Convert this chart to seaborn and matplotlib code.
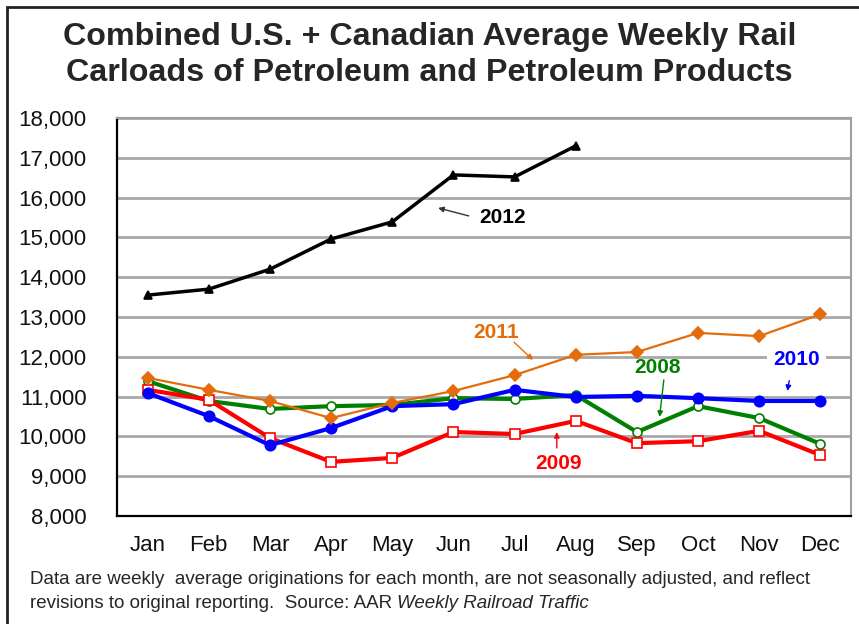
import pandas as pd
import matplotlib
matplotlib.use("Agg")
import matplotlib.pyplot as plt
import seaborn as sns
from matplotlib.patches import Rectangle
from matplotlib.ticker import FuncFormatter

# data (weekly average carloads)
months = ["Jan", "Feb", "Mar", "Apr", "May", "Jun", "Jul", "Aug", "Sep", "Oct", "Nov", "Dec"]
y2008 = [11390, 10890, 10690, 10760, 10790, 10960, 10940, 11040, 10110, 10760, 10460, 9810]
y2009 = [11170, 10920, 9960, 9360, 9460, 10110, 10060, 10390, 9830, 9880, 10140, 9530]
y2010 = [11090, 10510, 9780, 10210, 10760, 10810, 11170, 10990, 11020, 10960, 10890, 10890]
y2011 = [11470, 11170, 10890, 10460, 10840, 11140, 11540, 12050, 12120, 12600, 12520, 13070]
y2012 = [13550, 13700, 14200, 14960, 15390, 16570, 16520, 17300]
yticks = list(range(8000, 18001, 1000))

sns.set_style("white")
plt.rcParams["font.family"] = ["Liberation Sans", "DejaVu Sans"]

fig = plt.figure(figsize=(8.59, 6.24), dpi=100)
ax = fig.add_axes([117/859, 1 - 516/624, (851 - 117)/859, (516 - 118)/624])

# series styles: (values, color, marker, face, line width, marker size)
series = [
    (y2008, "#008000", "o", "white", 3.0, 6.5),
    (y2009, "#FF0000", "s", "white", 3.0, 6.5),
    (y2010, "#0000FF", "o", "#0000FF", 3.0, 7.5),
    (y2011, "#E46C0A", "D", "#E46C0A", 1.6, 6),
    (y2012, "black", "^", "black", 2.5, 6),
]
for vals, col, mk, face, lw, ms in series:
    x = list(range(len(vals)))
    sns.lineplot(x=x, y=vals, ax=ax, color=col, lw=lw, marker=mk, markersize=ms,
                 markerfacecolor=face, markeredgecolor=col, markeredgewidth=1.2)

ax.set_xlim(-0.5, 11.5)
ax.set_ylim(8000, 18000)
ax.set_yticks(yticks)
ax.yaxis.set_major_formatter(FuncFormatter(lambda v, p: f"{int(v):,}"))
ax.set_xticks(range(12))
ax.set_xticklabels(months)
ax.set_xticks([i + 0.5 for i in range(11)], minor=True)
ax.tick_params(axis="x", which="major", length=0, pad=14, labelsize=16, labelcolor="#111111")
ax.tick_params(axis="x", which="minor", direction="in", length=6, width=1.2, color="#333333")
ax.tick_params(axis="y", length=0, pad=22, labelsize=16, labelcolor="#111111")
ax.grid(axis="y", color="#a8a8a8", lw=2)
ax.set_axisbelow(True)
for s in ["left", "bottom"]:
    ax.spines[s].set_color("black")
    ax.spines[s].set_linewidth(1.6)
for s in ["top", "right"]:
    ax.spines[s].set_color("#a0a0a0")
    ax.spines[s].set_linewidth(1.5)
ax.set_xlabel("")
ax.set_ylabel("")

# series labels: (text, colour, text pos, arrow start, arrow end)
labels = [
    ("2012", "black", (5.42, 15490), (5.25, 15540), (4.75, 15740)),
    ("2011", "#E46C0A", (5.70, 12620), (5.99, 12370), (6.30, 11920)),
    ("2008", "#008000", (8.34, 11720), (8.44, 11420), (8.37, 10490)),
    ("2010", "#0000FF", (10.61, 11920), (10.49, 11400), (10.46, 11140)),
    ("2009", "#FF0000", (6.72, 9330), (6.69, 9710), (6.69, 10110)),
]
for txt, col, tpos, a0, a1 in labels:
    ha = "left" if txt == "2012" else "center"
    box = dict(boxstyle="square,pad=0.3", fc="white", ec="none") if txt == "2010" else None
    ax.text(tpos[0], tpos[1], txt, color=col, fontsize=15, fontweight="bold",
            va="center", ha=ha, bbox=box)
    ax.annotate("", xy=a1, xytext=a0,
                arrowprops=dict(arrowstyle="-|>", lw=1, mutation_scale=8,
                                color="#333333" if txt == "2012" else col,
                                shrinkA=0, shrinkB=0))

fig.text(0.5, 1 - 45/624, "Combined U.S. + Canadian Average Weekly Rail", ha="center",
         va="baseline", fontsize=23.2, fontweight="bold")
fig.text(0.5, 1 - 81/624, "Carloads of Petroleum and Petroleum Products", ha="center",
         va="baseline", fontsize=23.2, fontweight="bold")
fig.text(30/859, 1 - 580/624, "Data are weekly  average originations for each month, are not seasonally adjusted, and reflect",
         fontsize=13.5, va="center")
t2 = fig.text(30/859, 1 - 603/624, "revisions to original reporting.  Source: AAR ", fontsize=13.5, va="center")
fig.canvas.draw()
bb = t2.get_window_extent()
fig.text(bb.x1 / fig.bbox.width, 1 - 603/624, "Weekly Railroad Traffic", fontsize=13.5,
         va="center", style="italic")

fig.patches.append(Rectangle((7/859, -0.1), 1.2, 1.1 - 7/624, transform=fig.transFigure,
                             fill=False, ec="#222222", lw=2))

fig.savefig("out.png", dpi=100)
